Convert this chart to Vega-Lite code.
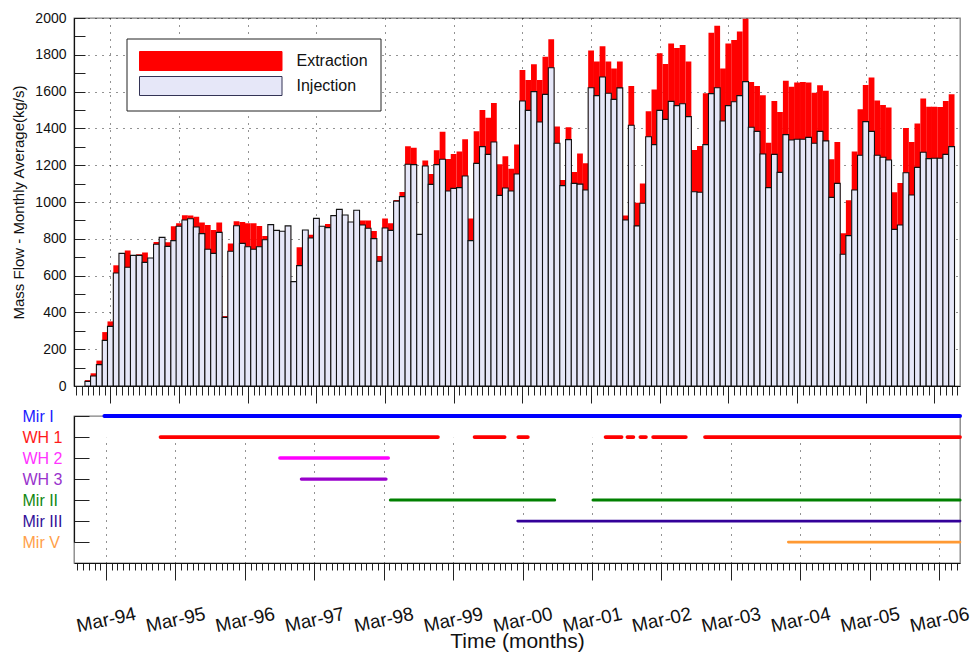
{
  "$schema": "https://vega.github.io/schema/vega-lite/v6.json",
  "background": "white",
  "padding": {"left": 11, "top": 10, "right": 5, "bottom": 5},
  "config": {
    "font": "Liberation Sans",
    "view": {"stroke": "#808080", "strokeWidth": 1.3},
    "axis": {"labelColor": "#111", "titleColor": "#111", "titleFontWeight": "normal", "domainColor": "#111", "tickColor": "#222", "domainWidth": 1.2}
  },
  "resolve": {
    "scale": {"color": "independent", "size": "independent", "x": "independent", "y": "independent"},
    "legend": {"color": "independent", "size": "independent"}
  },
  "datasets": {
    "flow": [
      {"month": "1993-11-01", "injection": 25, "extraction": 32},
      {"month": "1993-12-01", "injection": 54, "extraction": 69},
      {"month": "1994-01-01", "injection": 116, "extraction": 138},
      {"month": "1994-02-01", "injection": 248, "extraction": 293},
      {"month": "1994-03-01", "injection": 324, "extraction": 351},
      {"month": "1994-04-01", "injection": 614, "extraction": 656},
      {"month": "1994-05-01", "injection": 721, "extraction": 715},
      {"month": "1994-06-01", "injection": 645, "extraction": 736},
      {"month": "1994-07-01", "injection": 710, "extraction": 700},
      {"month": "1994-08-01", "injection": 710, "extraction": 716},
      {"month": "1994-09-01", "injection": 672, "extraction": 725},
      {"month": "1994-10-01", "injection": 696, "extraction": 690},
      {"month": "1994-11-01", "injection": 770, "extraction": 783},
      {"month": "1994-12-01", "injection": 808, "extraction": 800},
      {"month": "1995-01-01", "injection": 759, "extraction": 781},
      {"month": "1995-02-01", "injection": 790, "extraction": 868},
      {"month": "1995-03-01", "injection": 868, "extraction": 884},
      {"month": "1995-04-01", "injection": 902, "extraction": 928},
      {"month": "1995-05-01", "injection": 909, "extraction": 926},
      {"month": "1995-06-01", "injection": 864, "extraction": 920},
      {"month": "1995-07-01", "injection": 828, "extraction": 889},
      {"month": "1995-08-01", "injection": 743, "extraction": 875},
      {"month": "1995-09-01", "injection": 721, "extraction": 848},
      {"month": "1995-10-01", "injection": 835, "extraction": 889},
      {"month": "1995-11-01", "injection": 373, "extraction": 380},
      {"month": "1995-12-01", "injection": 732, "extraction": 775},
      {"month": "1996-01-01", "injection": 871, "extraction": 895},
      {"month": "1996-02-01", "injection": 775, "extraction": 891},
      {"month": "1996-03-01", "injection": 757, "extraction": 884},
      {"month": "1996-04-01", "injection": 743, "extraction": 884},
      {"month": "1996-05-01", "injection": 757, "extraction": 870},
      {"month": "1996-06-01", "injection": 795, "extraction": 815},
      {"month": "1996-07-01", "injection": 877, "extraction": 870},
      {"month": "1996-08-01", "injection": 846, "extraction": 840},
      {"month": "1996-09-01", "injection": 841, "extraction": 835},
      {"month": "1996-10-01", "injection": 870, "extraction": 860},
      {"month": "1996-11-01", "injection": 567, "extraction": 560},
      {"month": "1996-12-01", "injection": 654, "extraction": 754},
      {"month": "1997-01-01", "injection": 848, "extraction": 840},
      {"month": "1997-02-01", "injection": 804, "extraction": 822},
      {"month": "1997-03-01", "injection": 911, "extraction": 900},
      {"month": "1997-04-01", "injection": 868, "extraction": 860},
      {"month": "1997-05-01", "injection": 861, "extraction": 880},
      {"month": "1997-06-01", "injection": 926, "extraction": 915},
      {"month": "1997-07-01", "injection": 960, "extraction": 950},
      {"month": "1997-08-01", "injection": 929, "extraction": 920},
      {"month": "1997-09-01", "injection": 891, "extraction": 880},
      {"month": "1997-10-01", "injection": 955, "extraction": 945},
      {"month": "1997-11-01", "injection": 875, "extraction": 899},
      {"month": "1997-12-01", "injection": 857, "extraction": 899},
      {"month": "1998-01-01", "injection": 801, "extraction": 842},
      {"month": "1998-02-01", "injection": 678, "extraction": 707},
      {"month": "1998-03-01", "injection": 859, "extraction": 911},
      {"month": "1998-04-01", "injection": 846, "extraction": 884},
      {"month": "1998-05-01", "injection": 1005, "extraction": 1011},
      {"month": "1998-06-01", "injection": 1029, "extraction": 1054},
      {"month": "1998-07-01", "injection": 1205, "extraction": 1303},
      {"month": "1998-08-01", "injection": 1203, "extraction": 1295},
      {"month": "1998-09-01", "injection": 824, "extraction": 815},
      {"month": "1998-10-01", "injection": 1196, "extraction": 1225},
      {"month": "1998-11-01", "injection": 1096, "extraction": 1152},
      {"month": "1998-12-01", "injection": 1203, "extraction": 1281},
      {"month": "1999-01-01", "injection": 1232, "extraction": 1382},
      {"month": "1999-02-01", "injection": 1060, "extraction": 1234},
      {"month": "1999-03-01", "injection": 1074, "extraction": 1261},
      {"month": "1999-04-01", "injection": 1078, "extraction": 1274},
      {"month": "1999-05-01", "injection": 1141, "extraction": 1341},
      {"month": "1999-06-01", "injection": 790, "extraction": 911},
      {"month": "1999-07-01", "injection": 1210, "extraction": 1384},
      {"month": "1999-08-01", "injection": 1301, "extraction": 1500},
      {"month": "1999-09-01", "injection": 1259, "extraction": 1458},
      {"month": "1999-10-01", "injection": 1326, "extraction": 1538},
      {"month": "1999-11-01", "injection": 1036, "extraction": 1205},
      {"month": "1999-12-01", "injection": 1076, "extraction": 1248},
      {"month": "2000-01-01", "injection": 1060, "extraction": 1181},
      {"month": "2000-02-01", "injection": 1152, "extraction": 1312},
      {"month": "2000-03-01", "injection": 1549, "extraction": 1717},
      {"month": "2000-04-01", "injection": 1498, "extraction": 1663},
      {"month": "2000-05-01", "injection": 1600, "extraction": 1748},
      {"month": "2000-06-01", "injection": 1435, "extraction": 1663},
      {"month": "2000-07-01", "injection": 1585, "extraction": 1790},
      {"month": "2000-08-01", "injection": 1730, "extraction": 1884},
      {"month": "2000-09-01", "injection": 1319, "extraction": 1411},
      {"month": "2000-10-01", "injection": 1089, "extraction": 1120},
      {"month": "2000-11-01", "injection": 1339, "extraction": 1406},
      {"month": "2000-12-01", "injection": 1101, "extraction": 1163},
      {"month": "2001-01-01", "injection": 1097, "extraction": 1264},
      {"month": "2001-02-01", "injection": 1065, "extraction": 1210},
      {"month": "2001-03-01", "injection": 1621, "extraction": 1824},
      {"month": "2001-04-01", "injection": 1578, "extraction": 1763},
      {"month": "2001-05-01", "injection": 1679, "extraction": 1846},
      {"month": "2001-06-01", "injection": 1591, "extraction": 1763},
      {"month": "2001-07-01", "injection": 1558, "extraction": 1726},
      {"month": "2001-08-01", "injection": 1620, "extraction": 1763},
      {"month": "2001-09-01", "injection": 902, "extraction": 926},
      {"month": "2001-10-01", "injection": 1417, "extraction": 1630},
      {"month": "2001-11-01", "injection": 870, "extraction": 996},
      {"month": "2001-12-01", "injection": 993, "extraction": 1100},
      {"month": "2002-01-01", "injection": 1355, "extraction": 1493},
      {"month": "2002-02-01", "injection": 1312, "extraction": 1612},
      {"month": "2002-03-01", "injection": 1498, "extraction": 1808},
      {"month": "2002-04-01", "injection": 1449, "extraction": 1750},
      {"month": "2002-05-01", "injection": 1547, "extraction": 1862},
      {"month": "2002-06-01", "injection": 1524, "extraction": 1837},
      {"month": "2002-07-01", "injection": 1534, "extraction": 1853},
      {"month": "2002-08-01", "injection": 1464, "extraction": 1764},
      {"month": "2002-09-01", "injection": 1056, "extraction": 1283},
      {"month": "2002-10-01", "injection": 1053, "extraction": 1304},
      {"month": "2002-11-01", "injection": 1312, "extraction": 1591},
      {"month": "2002-12-01", "injection": 1589, "extraction": 1920},
      {"month": "2003-01-01", "injection": 1621, "extraction": 1958},
      {"month": "2003-02-01", "injection": 1440, "extraction": 1726},
      {"month": "2003-03-01", "injection": 1524, "extraction": 1862},
      {"month": "2003-04-01", "injection": 1545, "extraction": 1880},
      {"month": "2003-05-01", "injection": 1578, "extraction": 1926},
      {"month": "2003-06-01", "injection": 1654, "extraction": 1996},
      {"month": "2003-07-01", "injection": 1406, "extraction": 1652},
      {"month": "2003-08-01", "injection": 1384, "extraction": 1630},
      {"month": "2003-09-01", "injection": 1261, "extraction": 1580},
      {"month": "2003-10-01", "injection": 1078, "extraction": 1322},
      {"month": "2003-11-01", "injection": 1259, "extraction": 1549},
      {"month": "2003-12-01", "injection": 1161, "extraction": 1489},
      {"month": "2004-01-01", "injection": 1366, "extraction": 1659},
      {"month": "2004-02-01", "injection": 1337, "extraction": 1627},
      {"month": "2004-03-01", "injection": 1341, "extraction": 1649},
      {"month": "2004-04-01", "injection": 1341, "extraction": 1652},
      {"month": "2004-05-01", "injection": 1351, "extraction": 1649},
      {"month": "2004-06-01", "injection": 1319, "extraction": 1594},
      {"month": "2004-07-01", "injection": 1384, "extraction": 1634},
      {"month": "2004-08-01", "injection": 1332, "extraction": 1605},
      {"month": "2004-09-01", "injection": 1025, "extraction": 1232},
      {"month": "2004-10-01", "injection": 1101, "extraction": 1326},
      {"month": "2004-11-01", "injection": 716, "extraction": 830},
      {"month": "2004-12-01", "injection": 817, "extraction": 1009},
      {"month": "2005-01-01", "injection": 1065, "extraction": 1275},
      {"month": "2005-02-01", "injection": 1254, "extraction": 1504},
      {"month": "2005-03-01", "injection": 1437, "extraction": 1636},
      {"month": "2005-04-01", "injection": 1384, "extraction": 1676},
      {"month": "2005-05-01", "injection": 1254, "extraction": 1551},
      {"month": "2005-06-01", "injection": 1243, "extraction": 1527},
      {"month": "2005-07-01", "injection": 1228, "extraction": 1514},
      {"month": "2005-08-01", "injection": 851, "extraction": 1053},
      {"month": "2005-09-01", "injection": 875, "extraction": 1103},
      {"month": "2005-10-01", "injection": 1159, "extraction": 1402},
      {"month": "2005-11-01", "injection": 1038, "extraction": 1326},
      {"month": "2005-12-01", "injection": 1188, "extraction": 1426},
      {"month": "2006-01-01", "injection": 1270, "extraction": 1562},
      {"month": "2006-02-01", "injection": 1236, "extraction": 1518},
      {"month": "2006-03-01", "injection": 1238, "extraction": 1518},
      {"month": "2006-04-01", "injection": 1238, "extraction": 1516},
      {"month": "2006-05-01", "injection": 1259, "extraction": 1549},
      {"month": "2006-06-01", "injection": 1301, "extraction": 1585}
    ],
    "wells": [
      {"well": "Mir I", "start": "1994-02-22", "end": "2006-06-19"},
      {"well": "WH 1", "start": "1994-12-14", "end": "1998-12-12"},
      {"well": "WH 1", "start": "1999-06-23", "end": "1999-11-28"},
      {"well": "WH 1", "start": "2000-02-08", "end": "2000-03-29"},
      {"well": "WH 1", "start": "2001-05-12", "end": "2001-08-04"},
      {"well": "WH 1", "start": "2001-09-04", "end": "2001-10-05"},
      {"well": "WH 1", "start": "2001-11-11", "end": "2001-12-10"},
      {"well": "WH 1", "start": "2002-01-17", "end": "2002-07-08"},
      {"well": "WH 1", "start": "2002-10-17", "end": "2006-06-19"},
      {"well": "WH 2", "start": "1996-09-02", "end": "1998-03-26"},
      {"well": "WH 3", "start": "1996-12-24", "end": "1998-03-14"},
      {"well": "Mir II", "start": "1998-04-06", "end": "2000-08-17"},
      {"well": "Mir II", "start": "2001-03-07", "end": "2006-06-19"},
      {"well": "Mir III", "start": "2000-02-05", "end": "2006-06-19"},
      {"well": "Mir V", "start": "2003-12-29", "end": "2006-06-19"}
    ]
  },
  "spacing": 30,
  "bounds": "flush",
  "vconcat": [
    {
      "width": 886,
      "height": 368,
      "data": {"name": "flow"},
      "encoding": {
        "x": {
          "field": "month",
          "type": "temporal",
          "title": null,
          "scale": {
            "type": "utc",
            "domain": [
              {"year": 1993, "month": 9, "date": 15, "utc": true},
              {"year": 2006, "month": 6, "date": 19, "utc": true}
            ]
          },
          "axis": {
            "tickCount": {"interval": "month", "step": 1},
            "labels": false,
            "tickSize": {"condition": {"test": "utcmonth(datum.value) === 2", "value": 17}, "value": 9},
            "tickWidth": 1,
            "grid": true,
            "gridColor": "#000",
            "gridDash": [1, 6],
            "gridWidth": 1,
            "gridOpacity": {"condition": {"test": "utcmonth(datum.value) === 2", "value": 0.85}, "value": 0}
          }
        }
      },
      "layer": [
        {
          "mark": {"type": "bar", "width": 5.8},
          "encoding": {
            "y": {
              "field": "extraction",
              "type": "quantitative",
              "title": "Mass Flow - Monthly Average(kg/s)",
              "scale": {"domain": [0, 2000], "nice": false},
              "axis": {
                "values": [0, 100, 200, 300, 400, 500, 600, 700, 800, 900, 1000, 1100, 1200, 1300, 1400, 1500, 1600, 1700, 1800, 1900, 2000],
                "labelExpr": "datum.value % 200 === 0 ? datum.label : ''",
                "format": "d",
                "labelFontSize": 14,
                "labelOverlap": false,
                "labelFlush": false,
                "tickSize": -11,
                "labelPadding": 19,
                "grid": true,
                "gridColor": "#000",
                "gridDash": [1, 6],
                "gridOpacity": {"condition": {"test": "datum.value % 200 === 0", "value": 0.85}, "value": 0},
                "titleFontSize": 15,
                "titlePadding": 8
              }
            },
            "color": {
              "datum": "Extraction",
              "type": "nominal",
              "scale": {"domain": ["Extraction", "Injection"], "range": ["#ff0000", "#e6e7f8"]},
              "legend": {
                "orient": "none",
                "legendX": 52.5,
                "legendY": 20.5,
                "title": null,
                "direction": "vertical",
                "symbolType": "M-1,-1L14,-1L14,1L-1,1Z",
                "symbolSize": 361,
                "symbolStrokeWidth": 1,
                "symbolOpacity": 1,
                "labelFontSize": 16,
                "labelColor": "#111",
                "labelOffset": 137.5,
                "rowPadding": 1,
                "padding": 12.5,
                "strokeColor": "#222",
                "fillColor": "white",
                "cornerRadius": 0,
                "encode": {
                  "symbols": {"update": {"stroke": {"signal": "datum.value === 'Injection' ? '#333355' : '#ff0000'"}}}
                }
              }
            }
          }
        },
        {
          "mark": {"type": "bar", "width": 5.8, "stroke": "#111", "strokeWidth": 1.1},
          "encoding": {
            "y": {
              "field": "injection",
              "type": "quantitative",
              "title": "Mass Flow - Monthly Average(kg/s)",
              "axis": {
                "values": [0, 100, 200, 300, 400, 500, 600, 700, 800, 900, 1000, 1100, 1200, 1300, 1400, 1500, 1600, 1700, 1800, 1900, 2000],
                "labelExpr": "datum.value % 200 === 0 ? datum.label : ''",
                "format": "d",
                "labelFontSize": 14,
                "labelOverlap": false,
                "labelFlush": false,
                "tickSize": -11,
                "labelPadding": 19,
                "grid": true,
                "gridColor": "#000",
                "gridDash": [1, 6],
                "gridOpacity": {"condition": {"test": "datum.value % 200 === 0", "value": 0.85}, "value": 0},
                "titleFontSize": 15,
                "titlePadding": 8
              }
            },
            "color": {"datum": "Injection", "type": "nominal"}
          }
        }
      ]
    },
    {
      "width": 886,
      "height": 147,
      "data": {"name": "wells"},
      "mark": {"type": "rule", "strokeCap": "round"},
      "encoding": {
        "x": {
          "field": "start",
          "type": "temporal",
          "title": "Time (months)",
          "scale": {
            "type": "utc",
            "domain": [
              {"year": 1993, "month": 9, "date": 15, "utc": true},
              {"year": 2006, "month": 6, "date": 19, "utc": true}
            ]
          },
          "axis": {
            "tickCount": {"interval": "month", "step": 1},
            "labelExpr": "utcmonth(datum.value) === 2 ? utcFormat(datum.value, '%b-%y') : ''",
            "labelAngle": -12,
            "labelAlign": "center",
            "labelBaseline": "middle",
            "labelPadding": 39.5,
            "labelFontSize": 19,
            "labelOverlap": false,
            "labelFlush": false,
            "tickSize": {"condition": {"test": "utcmonth(datum.value) === 2", "value": 17}, "value": 7},
            "grid": true,
            "gridColor": "#000",
            "gridDash": [1, 6],
            "gridOpacity": {"condition": {"test": "utcmonth(datum.value) === 2", "value": 0.85}, "value": 0},
            "titleFontSize": 21,
            "titlePadding": -5.5
          }
        },
        "x2": {"field": "end"},
        "y": {
          "field": "well",
          "type": "nominal",
          "title": null,
          "scale": {
            "type": "point",
            "domain": ["Mir I", "WH 1", "WH 2", "WH 3", "Mir II", "Mir III", "Mir V"],
            "range": [0, 126.1],
            "padding": 0
          },
          "axis": {
            "tickSize": -15,
            "labelAlign": "left",
            "labelBaseline": "middle",
            "labelPadding": 67,
            "labelFontSize": 16,
            "grid": false,
            "labelColor": {
              "condition": [
                {"test": "datum.value === 'Mir I'", "value": "#1a1aff"},
                {"test": "datum.value === 'WH 1'", "value": "#ff1a1a"},
                {"test": "datum.value === 'WH 2'", "value": "#ff33ff"},
                {"test": "datum.value === 'WH 3'", "value": "#9933cc"},
                {"test": "datum.value === 'Mir II'", "value": "#118811"},
                {"test": "datum.value === 'Mir III'", "value": "#331199"}
              ],
              "value": "#ff9f4a"
            }
          }
        },
        "color": {
          "field": "well",
          "type": "nominal",
          "legend": null,
          "scale": {
            "domain": ["Mir I", "WH 1", "WH 2", "WH 3", "Mir II", "Mir III", "Mir V"],
            "range": ["#0000ff", "#ff0000", "#ff00ff", "#9900cc", "#008000", "#330099", "#ff9933"]
          }
        },
        "size": {
          "field": "well",
          "type": "nominal",
          "legend": null,
          "scale": {
            "domain": ["Mir I", "WH 1", "WH 2", "WH 3", "Mir II", "Mir III", "Mir V"],
            "range": [4, 2.6, 2.6, 2.6, 4, 4, 4]
          }
        }
      }
    }
  ]
}
